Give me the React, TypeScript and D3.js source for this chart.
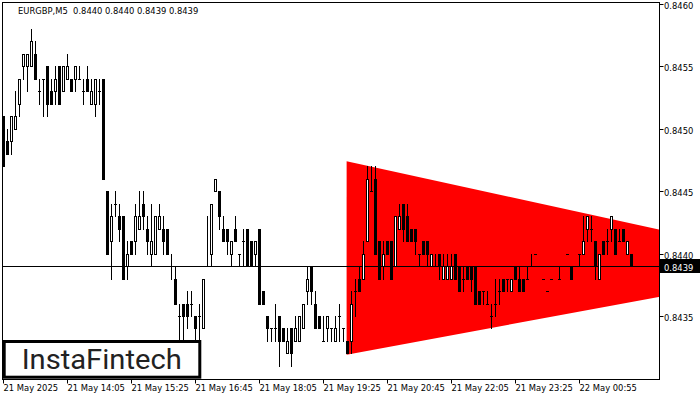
import React from "react";
import * as d3 from "d3";

// ---- data (EURGBP, M5) ----
const opens = [0.8451,0.8449,0.8449,0.8450,0.8452,0.8455,0.8455,0.8455,0.8456,0.8453,0.8454,0.8455,0.8453,0.8453,0.8455,0.8453,0.8454,0.8454,0.8454,0.8454,0.8453,0.8454,0.8452,0.8452,0.8453,0.8454,0.8445,0.8441,0.8444,0.8443,0.8443,0.8439,0.8441,0.8441,0.8442,0.8444,0.8442,0.8440,0.8440,0.8442,0.8442,0.8442,0.8439,0.8438,0.8435,0.8436,0.8436,0.8436,0.8435,0.8435,0.8434,0.8439,0.8440,0.8445,0.8445,0.8442,0.8442,0.8440,0.8442,0.8440,0.8441,0.8442,0.8441,0.8440,0.8442,0.8437,0.8435,0.8434,0.8434,0.8435,0.8434,0.8432,0.8434,0.8433,0.8433,0.8434,0.8437,0.8439,0.8436,0.8435,0.8433,0.8434,0.8434,0.8433,0.8435,0.8434,0.8433,0.8433,0.8437,0.8438,0.8438,0.8441,0.8445,0.8446,0.8441,0.8439,0.8441,0.8441,0.8439,0.8442,0.8444,0.8443,0.8442,0.8442,0.8440,0.8441,0.8441,0.8439,0.8439,0.8440,0.8438,0.8438,0.8438,0.8440,0.8439,0.8438,0.8439,0.8439,0.8439,0.8437,0.8437,0.8436,0.8435,0.8436,0.8437,0.8438,0.8438,0.8437,0.8439,0.8438,0.8438,0.8438,0.8439,0.8440,0.8439,0.8438,0.8437,0.8438,0.8439,0.8438,0.8439,0.8440,0.8439,0.8439,0.8440,0.8440,0.8442,0.8442,0.8441,0.8438,0.8441,0.8441,0.8442,0.8442,0.8441,0.8442,0.8440,0.8440];
const highs = [0.8451,0.8450,0.8451,0.8453,0.8454,0.8456,0.8456,0.8458,0.8457,0.8454,0.8454,0.8455,0.8454,0.8455,0.8455,0.8455,0.8456,0.8454,0.8455,0.8455,0.8454,0.8455,0.8454,0.8454,0.8454,0.8454,0.8445,0.8444,0.8445,0.8444,0.8443,0.8441,0.8441,0.8444,0.8445,0.8445,0.8443,0.8444,0.8443,0.8444,0.8443,0.8442,0.8440,0.8439,0.8436,0.8436,0.8437,0.8437,0.8435,0.8436,0.8438,0.8443,0.8444,0.8446,0.8445,0.8443,0.8442,0.8441,0.8443,0.8440,0.8442,0.8442,0.8441,0.8441,0.8442,0.8437,0.8435,0.8434,0.8436,0.8435,0.8434,0.8434,0.8434,0.8435,0.8435,0.8436,0.8439,0.8439,0.8437,0.8435,0.8435,0.8435,0.8434,0.8435,0.8436,0.8434,0.8433,0.8437,0.8438,0.8439,0.8441,0.8447,0.8447,0.8447,0.8441,0.8441,0.8441,0.8441,0.8443,0.8444,0.8444,0.8444,0.8442,0.8442,0.8440,0.8441,0.8441,0.8440,0.8440,0.8440,0.8440,0.8440,0.8440,0.8440,0.8439,0.8439,0.8439,0.8439,0.8439,0.8437,0.8437,0.8437,0.8436,0.8438,0.8438,0.8438,0.8438,0.8438,0.8439,0.8439,0.8438,0.8439,0.8440,0.8440,0.8439,0.8438,0.8437,0.8438,0.8439,0.8439,0.8439,0.8440,0.8439,0.8439,0.8440,0.8443,0.8443,0.8443,0.8441,0.8440,0.8441,0.8442,0.8443,0.8442,0.8442,0.8442,0.8441,0.8440];
const lows = [0.8447,0.8448,0.8448,0.8450,0.8451,0.8454,0.8453,0.8455,0.8454,0.8452,0.8451,0.8451,0.8452,0.8452,0.8452,0.8453,0.8454,0.8453,0.8453,0.8454,0.8452,0.8453,0.8452,0.8451,0.8452,0.8446,0.8440,0.8438,0.8443,0.8441,0.8438,0.8438,0.8440,0.8440,0.8442,0.8442,0.8440,0.8439,0.8440,0.8442,0.8440,0.8440,0.8438,0.8436,0.8433,0.8433,0.8434,0.8435,0.8433,0.8433,0.8434,0.8439,0.8439,0.8445,0.8442,0.8441,0.8440,0.8439,0.8441,0.8439,0.8439,0.8439,0.8439,0.8439,0.8436,0.8436,0.8433,0.8433,0.8433,0.8431,0.8433,0.8432,0.8431,0.8433,0.8433,0.8434,0.8436,0.8436,0.8434,0.8434,0.8433,0.8433,0.8433,0.8433,0.8433,0.8433,0.8432,0.8432,0.8435,0.8437,0.8438,0.8441,0.8445,0.8440,0.8438,0.8438,0.8440,0.8438,0.8439,0.8442,0.8441,0.8441,0.8441,0.8440,0.8439,0.8440,0.8439,0.8439,0.8439,0.8438,0.8438,0.8438,0.8438,0.8438,0.8437,0.8437,0.8438,0.8437,0.8436,0.8436,0.8436,0.8436,0.8434,0.8435,0.8436,0.8437,0.8437,0.8437,0.8438,0.8437,0.8437,0.8438,0.8439,0.8440,0.8439,0.8438,0.8437,0.8438,0.8439,0.8438,0.8439,0.8440,0.8438,0.8439,0.8439,0.8440,0.8441,0.8441,0.8438,0.8438,0.8440,0.8440,0.8441,0.8440,0.8441,0.8441,0.8440,0.8439];
const closes = [0.8447,0.8448,0.8451,0.8451,0.8454,0.8456,0.8456,0.8457,0.8454,0.8453,0.8454,0.8452,0.8452,0.8454,0.8452,0.8455,0.8455,0.8453,0.8455,0.8454,0.8453,0.8453,0.8453,0.8454,0.8453,0.8446,0.8440,0.8443,0.8444,0.8442,0.8438,0.8440,0.8440,0.8443,0.8443,0.8443,0.8441,0.8441,0.8443,0.8443,0.8441,0.8440,0.8439,0.8436,0.8435,0.8435,0.8435,0.8436,0.8434,0.8435,0.8438,0.8439,0.8444,0.8446,0.8443,0.8441,0.8441,0.8441,0.8441,0.8440,0.8441,0.8439,0.8439,0.8441,0.8436,0.8436,0.8434,0.8434,0.8434,0.8433,0.8433,0.8433,0.8432,0.8434,0.8435,0.8436,0.8438,0.8437,0.8434,0.8434,0.8433,0.8435,0.8434,0.8434,0.8435,0.8434,0.8432,0.8436,0.8437,0.8437,0.8440,0.8446,0.8445,0.8440,0.8438,0.8440,0.8440,0.8438,0.8443,0.8443,0.8442,0.8441,0.8441,0.8441,0.8440,0.8440,0.8440,0.8440,0.8439,0.8439,0.8439,0.8439,0.8439,0.8438,0.8437,0.8438,0.8438,0.8438,0.8436,0.8436,0.8437,0.8436,0.8435,0.8436,0.8437,0.8437,0.8438,0.8438,0.8438,0.8437,0.8437,0.8438,0.8439,0.8440,0.8439,0.8438,0.8437,0.8438,0.8439,0.8438,0.8439,0.8440,0.8438,0.8439,0.8440,0.8441,0.8443,0.8442,0.8439,0.8440,0.8440,0.8441,0.8443,0.8440,0.8441,0.8441,0.8441,0.8439];

const timeTickIndex = [0, 16, 32, 48, 64, 80, 96, 112, 128, 144];
const timeTickLabels = ["21 May 2025","21 May 14:05","21 May 15:25","21 May 16:45","21 May 18:05","21 May 19:25","21 May 20:45","21 May 22:05","21 May 23:25","22 May 00:55"];
const priceTicks = [0.8435, 0.8440, 0.8445, 0.8450, 0.8455, 0.8460];
const currentPrice = 0.8439;
const titleText = "EURGBP,M5  0.8440 0.8440 0.8439 0.8439";
// triangle pattern vertices (bar index, price)
const triangleIndex = [85.9, 205.8, 85.9];
const trianglePrice = [0.84474, 0.8439, 0.84319];

const W = 700, H = 400;
const PL = 2.5, PR = 659.5, PT = 2.5, PB = 379.5;
const FONT = "'DejaVu Sans', Verdana, sans-serif";

export default function App() {
  const x = d3.scaleLinear().domain([0, 164]).range([3, 659]);
  const y = d3.scaleLinear().domain([0.843, 0.846]).range([378.4, 4]);
  const yr = (p: number) => Math.round(y(p));

  const triPath = d3.line<number>()
    .x((_, i) => x(triangleIndex[i]))
    .y((_, i) => y(trianglePrice[i]))(trianglePrice as any) + "Z";

  const candles = opens.map((o, i) => {
    const c = Math.round(x(i));
    const h = highs[i], l = lows[i], cl = closes[i];
    const yh = yr(h), yl = yr(l);
    let body;
    if (cl > o) {
      const yt = yr(cl), yb = yr(o);
      body = <rect x={c - 0.5} y={yt + 0.5} width={2} height={Math.max(yb - yt, 1)} fill="#fff" stroke="#000" strokeWidth={1} />;
    } else if (cl < o) {
      const yt = yr(o), yb = yr(cl);
      body = <rect x={c - 1} y={yt} width={3} height={yb - yt + 1} fill="#000" />;
    } else {
      body = <rect x={c - 1} y={yr(o)} width={3} height={1} fill="#000" />;
    }
    return (
      <g key={i}>
        <rect x={c} y={yh} width={1} height={yl - yh + 1} fill="#000" />
        {body}
      </g>
    );
  });

  return (
    <svg width={W} height={H} style={{ position: "absolute", left: 0, top: 0, background: "#fff" }}>
      <defs>
        <clipPath id="plot">
          <rect x={PL} y={PT} width={PR - PL} height={PB - PT} />
        </clipPath>
      </defs>
      <rect x={0} y={0} width={W} height={H} fill="#fff" />
      <g clipPath="url(#plot)">
        <path d={triPath} fill="#ff0000" />
        <rect x={PL} y={yr(currentPrice)} width={PR - PL} height={1} fill="#000" />
        {candles}
      </g>
      {/* frame */}
      <rect x={PL} y={PT} width={PR - PL} height={PB - PT} fill="none" stroke="#000" strokeWidth={1} />
      {/* price axis */}
      {priceTicks.map((p) => (
        <g key={p}>
          <line x1={PR} x2={PR + 4} y1={yr(p) + 0.5} y2={yr(p) + 0.5} stroke="#000" />
          <text x={664} y={yr(p) + 4.5} fontFamily={FONT} fontSize={8.4} fill="#000">{p.toFixed(4)}</text>
        </g>
      ))}
      <rect x={660} y={259} width={40} height={14} fill="#000" />
      <text x={664} y={yr(currentPrice) + 4.5} fontFamily={FONT} fontSize={8.4} fill="#fff">{currentPrice.toFixed(4)}</text>
      {/* time axis */}
      {timeTickIndex.map((k, i) => {
        const tx = Math.round(x(k)) + 0.5;
        return (
          <g key={k}>
            <line x1={tx} x2={tx} y1={PB} y2={PB + 4} stroke="#000" />
            <text x={tx} y={391} fontFamily={FONT} fontSize={8.4} fill="#000">{timeTickLabels[i]}</text>
          </g>
        );
      })}
      {/* title */}
      <text x={18} y={13.5} fontFamily={FONT} fontSize={8.4} fill="#000" xmlSpace="preserve" style={{ whiteSpace: "pre" }}>{titleText}</text>
      {/* logo */}
      <rect x={4.2} y={341.5} width={195.6} height={35.7} fill="#fff" stroke="#000" strokeWidth={3} />
      <text x={21.7} y={369} fontFamily="Roboto, 'Open Sans', sans-serif" fontWeight={400} fontSize={28} fill="#222" textLength={160} lengthAdjust="spacingAndGlyphs">InstaFintech</text>
    </svg>
  );
}
